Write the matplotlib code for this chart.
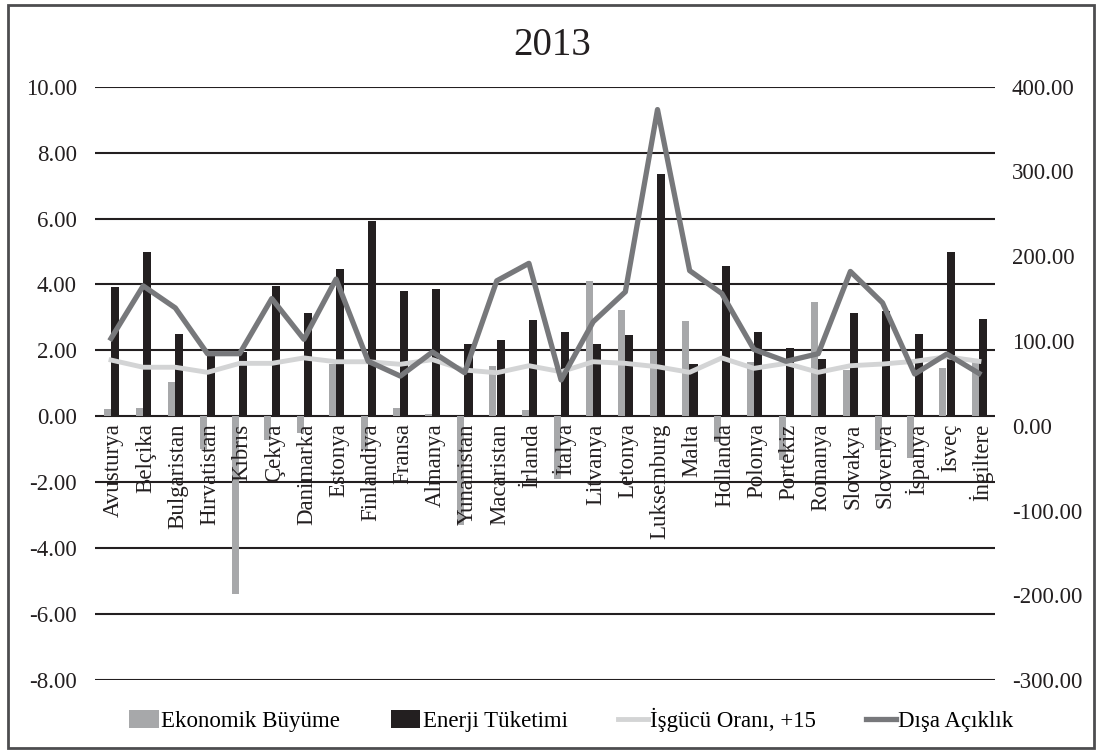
import numpy as np
import matplotlib
matplotlib.use("Agg")
import matplotlib.pyplot as plt
from matplotlib.patches import Rectangle

plt.rcParams["font.family"] = ["Liberation Serif", "DejaVu Serif"]

countries = ["Avusturya", "Belçika", "Bulgaristan", "Hırvatistan", "Kıbrıs", "Çekya",
             "Danimarka", "Estonya", "Finlandiya", "Fransa", "Almanya", "Yunanistan",
             "Macaristan", "İrlanda", "İtalya", "Litvanya", "Letonya", "Luksemburg",
             "Malta", "Hollanda", "Polonya", "Portekiz", "Romanya", "Slovakya",
             "Slovenya", "İspanya", "İsveç", "İngiltere"]

# left axis
growth = [0.21, 0.26, 1.04, -0.98, -5.39, -0.73, -0.50, 1.58, -1.03, 0.26, 0.08, -3.31,
          1.52, 0.18, -1.91, 4.10, 3.24, 1.98, 2.89, -0.78, 1.65, -1.34, 3.47, 1.40,
          -1.01, -1.26, 1.47, 1.65]
energy = [3.91, 4.99, 2.51, 1.85, 1.94, 3.96, 3.14, 4.47, 5.91, 3.81, 3.85, 2.18,
          2.33, 2.92, 2.56, 2.18, 2.46, 7.34, 1.60, 4.56, 2.56, 2.07, 1.75, 3.14,
          3.20, 2.51, 4.99, 2.95]

# right axis
labour = [77.5, 69, 69, 63, 73.6, 73.6, 80, 75.5, 75.5, 72.5, 78, 65.7,
          62.5, 70.8, 63.7, 75.5, 73.6, 69.6, 63, 80, 67.7, 73.6, 63, 70.8,
          72.8, 76, 81.4, 76]
openness = [103, 165, 139, 85, 85, 150, 102, 173, 76, 58.6, 87, 62.5,
            171, 191.6, 54, 122.7, 158, 373, 183, 156, 90, 76, 85, 182,
            145, 61, 84.6, 61.8]

x = np.arange(len(countries))

fig = plt.figure(figsize=(10.99, 7.53), dpi=100)
ax = fig.add_axes([0.0864, 0.0969, 0.8190, 0.7880])
ax2 = ax.twinx()

ax.bar(x - 0.12, growth, width=0.22, color="#a7a8aa", label="Ekonomik Büyüme", zorder=2)
ax.bar(x + 0.12, energy, width=0.25, color="#231f20", label="Enerji Tüketimi", zorder=2)
ax2.plot(x, labour, color="#d3d4d5", lw=3.5, label="İşgücü Oranı, +15")
ax2.plot(x, openness, color="#77787b", lw=3.8, label="Dışa Açıklık")

ax.set_xlim(-0.5, len(countries) - 0.5)
ax.set_ylim(-8, 10)
ax.set_yticks(np.arange(-8, 10.1, 2))
ax.set_yticklabels([f"{v:.2f}" for v in np.arange(-8, 10.1, 2)])
ax2.set_ylim(-300, 400)
ax2.set_yticks(np.arange(-300, 401, 100))
ax2.set_yticklabels([f"{v:.2f}" for v in np.arange(-300, 401, 100)])

ax.grid(True, axis="y", color="#231f20", lw=1.5)
ax.set_axisbelow(True)

# category labels sit just under the zero line, drawn over the bars
ax.set_xticks([])
for xi, name in zip(x, countries):
    ax.annotate(name, xy=(xi + 0.08, 0), xytext=(0, -5), textcoords="offset points",
                rotation=90, ha="center", va="top", fontsize=16.5, color="#231f20",
                zorder=3)

ax.tick_params(axis="y", length=0, pad=13, labelsize=16.5, labelcolor="#231f20")
ax2.tick_params(axis="y", length=0, pad=12, labelsize=16.5, labelcolor="#231f20")
for a in (ax, ax2):
    for side in a.spines:
        a.spines[side].set_visible(False)

fig.text(0.502, 0.94, "2013", ha="center", va="center", fontsize=28, color="#231f20")

h1, l1 = ax.get_legend_handles_labels()
h2, l2 = ax2.get_legend_handles_labels()
fig.legend(h1 + h2, l1 + l2, loc="center", bbox_to_anchor=(0.52, 0.044), ncol=4,
           frameon=False, fontsize=16.5, handlelength=1.3, handleheight=0.8,
           handletextpad=0.1, columnspacing=2.2)

fig.add_artist(Rectangle((0.007, 0.006), 0.988, 0.988, transform=fig.transFigure,
                         fill=False, edgecolor="#4d4d4f", lw=2))

fig.savefig("out.png", dpi=100)
